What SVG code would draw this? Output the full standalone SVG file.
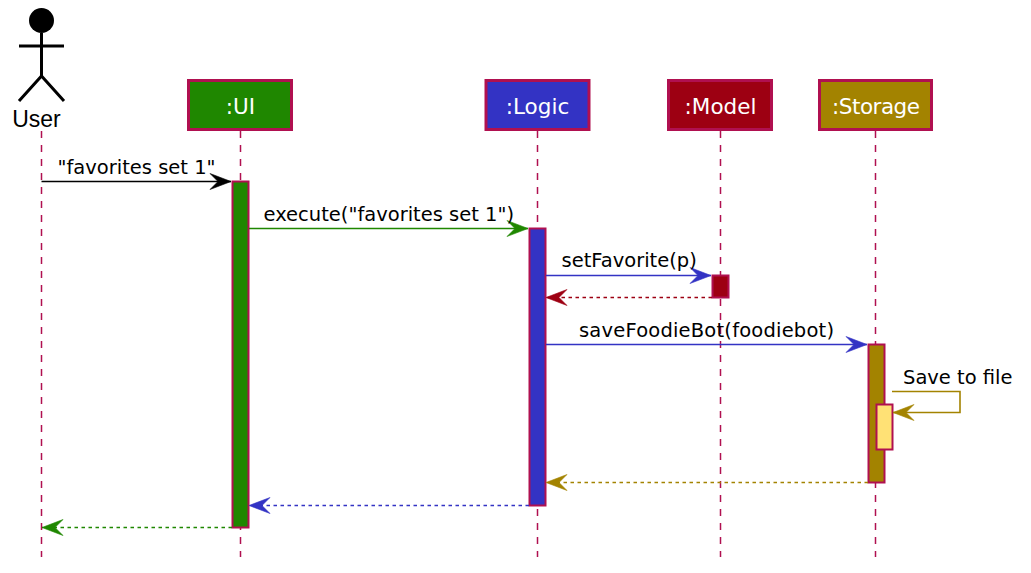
<svg xmlns="http://www.w3.org/2000/svg" width="1031" height="573" viewBox="0 0 1031 573">
<style>
text{font-family:"DejaVu Sans",sans-serif;font-size:19.5px;fill:#000}
.life{stroke:#B01050;stroke-width:1.5;stroke-dasharray:7 7;fill:none}
.box{stroke:#B01050;stroke-width:3}
.act{stroke:#B01050;stroke-width:2}
.pt{fill:#fff;font-size:21.5px;text-anchor:middle}
.m{fill:none;stroke-width:1.6}
.d{stroke-dasharray:3.5 3.5}
.actor{stroke:#000;stroke-width:3;fill:none}
.h{stroke-width:.6;stroke-linejoin:miter}
</style>
<defs>
<marker id="aK" markerUnits="userSpaceOnUse" markerWidth="24" markerHeight="20" refX="22" refY="10" orient="auto"><path class="h" d="M1 2L22 10L1 18L9 10Z" fill="#000" stroke="#000"/></marker>
<marker id="aG" markerUnits="userSpaceOnUse" markerWidth="24" markerHeight="20" refX="22" refY="10" orient="auto"><path class="h" d="M1 2L22 10L1 18L9 10Z" fill="#1F8700" stroke="#1F8700"/></marker>
<marker id="aB" markerUnits="userSpaceOnUse" markerWidth="24" markerHeight="20" refX="22" refY="10" orient="auto"><path class="h" d="M1 2L22 10L1 18L9 10Z" fill="#3333C4" stroke="#3333C4"/></marker>
<marker id="aR" markerUnits="userSpaceOnUse" markerWidth="24" markerHeight="20" refX="22" refY="10" orient="auto"><path class="h" d="M1 2L22 10L1 18L9 10Z" fill="#9D0012" stroke="#9D0012"/></marker>
<marker id="aY" markerUnits="userSpaceOnUse" markerWidth="24" markerHeight="20" refX="22" refY="10" orient="auto"><path class="h" d="M1 2L22 10L1 18L9 10Z" fill="#A38300" stroke="#A38300"/></marker>
</defs>
<g id="lifelines">
<path class="life" d="M41.5 131V557"/>
<path class="life" d="M240.5 131V557"/>
<path class="life" d="M537.5 131V557"/>
<path class="life" d="M720.5 131V557"/>
<path class="life" d="M875.5 131V557"/>
</g>
<g id="user">
<circle cx="41.5" cy="20.5" r="12.5" fill="#000"/>
<path class="actor" d="M41.5 33V76M19 46H64M19 101L41.5 76L64 101"/>
<text x="36.5" y="127" text-anchor="middle" style="font-family:'Liberation Sans',sans-serif;font-size:23px">User</text>
</g>
<g id="ui"><rect class="box" x="188.5" y="80.5" width="103" height="49" fill="#1F8700"/><text class="pt" x="240.5" y="114">:UI</text></g>
<g id="logic"><rect class="box" x="486" y="80.5" width="103" height="49" fill="#3333C4"/><text class="pt" x="537.5" y="114">:Logic</text></g>
<g id="model"><rect class="box" x="668.5" y="80.5" width="103" height="49" fill="#9D0012"/><text class="pt" x="720.5" y="114">:Model</text></g>
<g id="storage"><rect class="box" x="819.5" y="80.5" width="112" height="49" fill="#A38300"/><text class="pt" x="876" y="114" textLength="88">:Storage</text></g>
<g id="activations">
<rect class="act" x="232.5" y="181.5" width="16" height="346" fill="#1F8700"/>
<rect class="act" x="529.5" y="228.5" width="16" height="277" fill="#3333C4"/>
<rect class="act" x="712.5" y="275.5" width="16" height="22" fill="#9D0012"/>
<rect class="act" x="868.5" y="344.5" width="16" height="138" fill="#A38300"/>
<rect class="act" x="876.5" y="404.5" width="16" height="45" fill="#FFE175"/>
</g>
<g id="connectors">
<path class="m" stroke="#000" marker-end="url(#aK)" d="M41.5 181.5H231"/>
<path class="m" stroke="#1F8700" marker-end="url(#aG)" d="M249 228.5H528"/>
<path class="m" stroke="#3333C4" marker-end="url(#aB)" d="M546 275.5H711"/>
<path class="m d" stroke="#9D0012" marker-end="url(#aR)" d="M712 297.5H546"/>
<path class="m" stroke="#3333C4" marker-end="url(#aB)" d="M546 344.5H867"/>
<path class="m" stroke="#A38300" marker-end="url(#aY)" d="M892 391.5H960V412.5H893"/>
<path class="m d" stroke="#A38300" marker-end="url(#aY)" d="M868 482.5H546"/>
<path class="m d" stroke="#3333C4" marker-end="url(#aB)" d="M529 505.5H249"/>
<path class="m d" stroke="#1F8700" marker-end="url(#aG)" d="M232 527.5H42"/>
</g>
<g id="labels">
<text x="57.5" y="174">"favorites set 1"</text>
<text x="263.5" y="221">execute("favorites set 1")</text>
<text x="561.5" y="267">setFavorite(p)</text>
<text x="579" y="337" textLength="255">saveFoodieBot(foodiebot)</text>
<text x="903" y="384">Save to file</text>
</g>
</svg>
